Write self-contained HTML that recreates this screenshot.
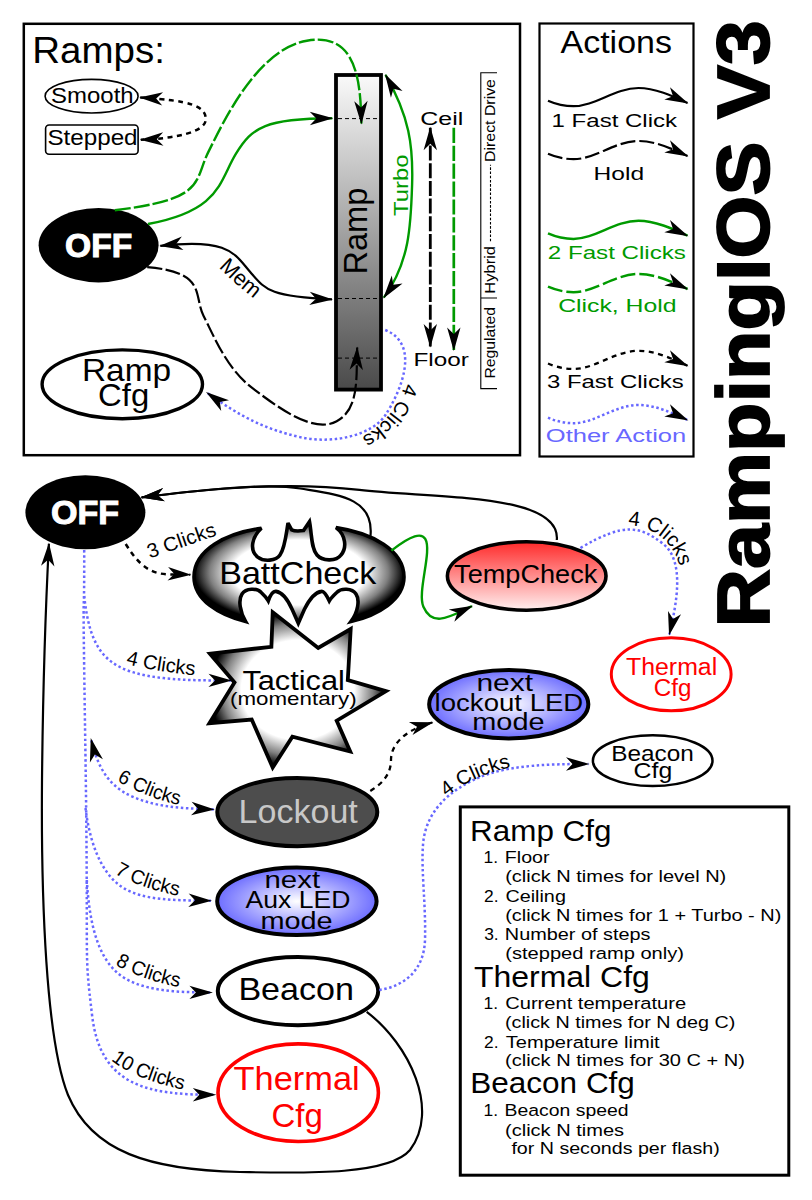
<!DOCTYPE html><html><head><meta charset="utf-8"><style>html,body{margin:0;padding:0;background:#fff;overflow:hidden}svg{display:block;font-family:"Liberation Sans",sans-serif}</style></head><body>
<svg width="812" height="1200" viewBox="0 0 812 1200">
<defs>
<marker id="ah" markerWidth="30" markerHeight="20" viewBox="-26 -10 30 20" refX="0" refY="0" orient="auto" markerUnits="userSpaceOnUse"><path d="M1,0 L-22.5,-6.7 L-16,0 L-22.5,6.7 Z" fill="#000"/></marker>
<marker id="ahs" markerWidth="30" markerHeight="20" viewBox="-26 -10 30 20" refX="0" refY="0" orient="auto-start-reverse" markerUnits="userSpaceOnUse"><path d="M1,0 L-22.5,-6.7 L-16,0 L-22.5,6.7 Z" fill="#000"/></marker>
<linearGradient id="rampg" x1="0" y1="0" x2="0" y2="1"><stop offset="0" stop-color="#fafafa"/><stop offset="1" stop-color="#4a4a4a"/></linearGradient>
<radialGradient id="bw" cx="0.5" cy="0.5" r="0.5"><stop offset="0" stop-color="#fff"/><stop offset="0.64" stop-color="#fff"/><stop offset="0.85" stop-color="#808080"/><stop offset="1" stop-color="#000"/></radialGradient>
<radialGradient id="bl" cx="0.5" cy="0.5" r="0.5"><stop offset="0" stop-color="#fff"/><stop offset="1" stop-color="#6e6eff"/></radialGradient>
<linearGradient id="tc" x1="0" y1="0" x2="0" y2="1"><stop offset="0" stop-color="#ff2a2a"/><stop offset="1" stop-color="#fff0f0"/></linearGradient>
</defs>
<rect width="812" height="1200" fill="#fff"/>
<rect x="23.8" y="23.8" width="496.2" height="431.4" fill="none" stroke="#000" stroke-width="2.5"/>
<text x="32.3" y="62.5" font-size="37.8" fill="#000" textLength="132.6" lengthAdjust="spacingAndGlyphs">Ramps:</text>
<ellipse cx="91.6" cy="96.2" rx="46.5" ry="16.8" fill="#fff" stroke="#000" stroke-width="1.6"/>
<text x="51.1" y="103.2" font-size="21.4" fill="#000" textLength="82.6" lengthAdjust="spacingAndGlyphs">Smooth</text>
<rect x="45.6" y="125" width="92.5" height="29.2" rx="3.5" fill="#fff" stroke="#000" stroke-width="1.6"/>
<text x="47.4" y="145.0" font-size="21.4" fill="#000" textLength="90.2" lengthAdjust="spacingAndGlyphs">Stepped</text>
<path d="M140.2,97.5 C190.2,100.5 205.8,106.1 205.8,119.2 C205.7,132.4 174.0,138.7 140.8,139.7" fill="none" stroke="#000" stroke-width="2.5" stroke-dasharray="5,4.5" marker-end="url(#ah)" marker-start="url(#ahs)"/>
<rect x="336" y="75" width="45" height="314.6" fill="url(#rampg)" stroke="#000" stroke-width="3.8"/>
<path d="M338,118.6 H379 M338,298.5 H379 M338,358.1 H379" stroke="#000" stroke-width="1" stroke-dasharray="4,3"/>
<text x="367.1" y="274.5" font-size="32.3" fill="#000" textLength="86.8" lengthAdjust="spacingAndGlyphs" transform="rotate(-90.0 367.1 274.5)">Ramp</text>
<ellipse cx="98.6" cy="245.2" rx="60" ry="37.2" fill="#000"/>
<text x="65.1" y="256.5" font-size="32.3" fill="#fff" font-weight="bold" textLength="67.1" lengthAdjust="spacingAndGlyphs" stroke="#fff" stroke-width="1">OFF</text>
<path d="M114.8,210.2 C206.8,199.2 193.4,182.0 208.4,151.9 C223.4,121.8 257.2,49.4 306.9,40.7 C356.5,32.0 360.5,80.1 361.4,123.5" fill="none" stroke="#009a00" stroke-width="2.4" stroke-dasharray="16,3" marker-end="url(#ah)"/>
<path d="M148.0,224.0 C220.5,210.4 219.0,181.8 235.7,154.2 C252.5,126.5 265.7,118.7 332.3,118.3" fill="none" stroke="#009a00" stroke-width="2.4" marker-end="url(#ah)"/>
<path d="M160.3,245.9 C229.9,237.7 234.9,254.4 250.0,271.7 C265.2,289.0 267.4,296.6 332.0,299.4" fill="none" stroke="#000" stroke-width="2.2" marker-end="url(#ah)" marker-start="url(#ahs)"/>
<path id="tp1" d="M218.9,267.4 Q233.6,282.6 254.3,298.8" fill="none"/>
<text font-size="21.5" fill="#000"><textPath href="#tp1" textLength="47.4" lengthAdjust="spacingAndGlyphs">Mem</textPath></text>
<path d="M147.2,267.2 C207.4,272.0 193.2,295.6 203.6,316.0 C214.1,336.4 226.7,368.8 252.5,388.2 C278.3,407.7 313.5,434.0 336.7,421.3 C359.9,408.7 356.0,376.5 357.2,347.5" fill="none" stroke="#000" stroke-width="2.2" stroke-dasharray="15,3.5" marker-end="url(#ah)"/>
<path d="M385.2,330.0 C422.6,345.0 398.4,395.1 385.6,414.8 C372.7,434.6 334.3,444.8 299.9,437.1 C265.6,429.3 241.3,417.2 206.8,392.6" fill="none" stroke="#6868ff" stroke-width="2.5" stroke-dasharray="2.5,2.6" marker-end="url(#ah)"/>
<ellipse cx="122.3" cy="384.3" rx="80.2" ry="34.4" fill="#fff" stroke="#000" stroke-width="3.4"/>
<text x="81.9" y="380.6" font-size="31.3" fill="#000" textLength="89.2" lengthAdjust="spacingAndGlyphs">Ramp</text>
<text x="98.0" y="406.4" font-size="31.3" fill="#000" textLength="51.2" lengthAdjust="spacingAndGlyphs">Cfg</text>
<path id="arc1" d="M404.9,382.9 A85,85 0 0 1 344.6,443.6" fill="none"/>
<text font-size="20"><textPath href="#arc1" textLength="71.4" lengthAdjust="spacingAndGlyphs">4 Clicks</textPath></text>
<path d="M385.5,74.8 C409.4,116.3 413.3,145.8 412.1,184.7 C410.9,223.7 409.9,262.2 383.8,297.6" fill="none" stroke="#009a00" stroke-width="2.4" marker-end="url(#ah)" marker-start="url(#ahs)"/>
<text x="407.8" y="216.0" font-size="20.0" fill="#009a00" textLength="61.5" lengthAdjust="spacingAndGlyphs" transform="rotate(-90.0 407.8 216.0)">Turbo</text>
<text x="420.3" y="124.7" font-size="18.9" fill="#000" textLength="42.9" lengthAdjust="spacingAndGlyphs">Ceil</text>
<text x="413.5" y="365.5" font-size="18.9" fill="#000" textLength="55.3" lengthAdjust="spacingAndGlyphs">Floor</text>
<path d="M430.3,127.8 L430.3,346.4" fill="none" stroke="#000" stroke-width="2.8" stroke-dasharray="15,2.7" marker-end="url(#ah)" marker-start="url(#ahs)"/>
<path d="M453.8,127.8 L453.8,350.0" fill="none" stroke="#009a00" stroke-width="2.7" stroke-dasharray="15.2,2.7" marker-end="url(#ah)"/>
<path d="M497,72.7 H480.8 V388.6 H497 M480.8,298 H497" fill="none" stroke="#000" stroke-width="1.1"/>
<text x="495.0" y="378.6" font-size="15.5" fill="#000" textLength="71.7" lengthAdjust="spacingAndGlyphs" transform="rotate(-90.0 495.0 378.6)">Regulated</text>
<text x="495.0" y="293.7" font-size="15.5" fill="#000" textLength="47.7" lengthAdjust="spacingAndGlyphs" transform="rotate(-90.0 495.0 293.7)">Hybrid</text>
<text x="495.0" y="161.9" font-size="15.5" fill="#000" textLength="82.8" lengthAdjust="spacingAndGlyphs" transform="rotate(-90.0 495.0 161.9)">Direct Drive</text>
<path d="M490.5,241.3 V164.8" stroke="#000" stroke-width="1.1" stroke-dasharray="2.6,1.6"/>
<rect x="539.5" y="23.5" width="154" height="433" fill="none" stroke="#000" stroke-width="2.2"/>
<text x="560.5" y="53.4" font-size="32.0" fill="#000" textLength="111.4" lengthAdjust="spacingAndGlyphs">Actions</text>
<path d="M548,100.7 C556,104.2 565,106.2 573.5,106.2 C595,106.2 615,88.0 638.5,88.0 C655,88.0 672,95.7 687.5,103.0" fill="none" stroke="#000" stroke-width="2.2" marker-end="url(#ah)"/>
<text x="551.6" y="126.9" font-size="18.9" fill="#000" textLength="125.4" lengthAdjust="spacingAndGlyphs">1 Fast Click</text>
<path d="M548,153.7 C556,157.2 565,159.2 573.5,159.2 C595,159.2 615,141.0 638.5,141.0 C655,141.0 672,148.7 687.5,156.0" fill="none" stroke="#000" stroke-width="2.2" stroke-dasharray="15,4" marker-end="url(#ah)"/>
<text x="593.6" y="179.5" font-size="18.9" fill="#000" textLength="50.5" lengthAdjust="spacingAndGlyphs">Hold</text>
<path d="M548,233.4 C556,236.9 565,238.9 573.5,238.9 C595,238.9 615,220.7 638.5,220.7 C655,220.7 672,228.4 687.5,235.7" fill="none" stroke="#009a00" stroke-width="2.5" marker-end="url(#ah)"/>
<text x="547.8" y="259.0" font-size="18.9" fill="#009a00" textLength="138.1" lengthAdjust="spacingAndGlyphs">2 Fast Clicks</text>
<path d="M548,286.7 C556,290.2 565,292.2 573.5,292.2 C595,292.2 615,274.0 638.5,274.0 C655,274.0 672,281.7 687.5,289.0" fill="none" stroke="#009a00" stroke-width="2.5" stroke-dasharray="15,4" marker-end="url(#ah)"/>
<text x="558.2" y="311.8" font-size="18.9" fill="#009a00" textLength="118.4" lengthAdjust="spacingAndGlyphs">Click, Hold</text>
<path d="M548,363.5 C556,367.0 565,369.0 573.5,369.0 C595,369.0 615,350.8 638.5,350.8 C655,350.8 672,358.5 687.5,365.8" fill="none" stroke="#000" stroke-width="2.3" stroke-dasharray="5,4.5" marker-end="url(#ah)"/>
<text x="547.1" y="387.6" font-size="18.9" fill="#000" textLength="136.6" lengthAdjust="spacingAndGlyphs">3 Fast Clicks</text>
<path d="M548,417.7 C556,421.2 565,423.2 573.5,423.2 C595,423.2 615,405.0 638.5,405.0 C655,405.0 672,412.7 687.5,420.0" fill="none" stroke="#6868ff" stroke-width="2.5" stroke-dasharray="2.5,2.6" marker-end="url(#ah)"/>
<text x="545.8" y="442.0" font-size="18.9" fill="#6868ff" textLength="140.4" lengthAdjust="spacingAndGlyphs">Other Action</text>
<text x="769.0" y="627.4" font-size="74.0" fill="#000" font-weight="bold" textLength="607.3" lengthAdjust="spacingAndGlyphs" transform="rotate(-90.0 769.0 627.4)" stroke="#000" stroke-width="1.8">RampingIOS V3</text>
<path d="M366.7,1011.8 C410,1045 440,1110 410,1150 C388,1176 300,1173 240,1172 C150,1170 92,1152 68,1095 C46,1040 41,900 42,780 C43,680 46,600 48.9,543.7" fill="none" stroke="#000" stroke-width="2.2" marker-end="url(#ah)"/>
<path d="M370.5,535.8 C374.1,497.4 337.9,494.8 300.2,488.5 C262.6,482.3 186.2,491.7 141.6,497.4" fill="none" stroke="#000" stroke-width="2.2" marker-end="url(#ah)"/>
<path d="M556.8,540.0 C561.2,492.3 430.4,498.5 359.5,489.9 C288.6,481.4 213.2,488.2 141.6,497.4" fill="none" stroke="#000" stroke-width="2.2" marker-end="url(#ah)"/>
<ellipse cx="85.4" cy="512.2" rx="60" ry="37" fill="#000"/>
<text x="51.0" y="523.5" font-size="32.3" fill="#fff" font-weight="bold" textLength="68.1" lengthAdjust="spacingAndGlyphs" stroke="#fff" stroke-width="1">OFF</text>
<path d="M125.7,544.0 C147.9,580.3 163.7,573.6 190.3,574.7" fill="none" stroke="#000" stroke-width="2.5" stroke-dasharray="5,4.5" marker-end="url(#ah)"/>
<text x="149.7" y="558.6" font-size="20.0" fill="#000" textLength="71.6" lengthAdjust="spacingAndGlyphs" transform="rotate(-19.1 149.7 558.6)">3 Clicks</text>
<path d="M84.2,596.0 C86.8,619.8 91.6,642.6 105.6,656.7 C119.5,670.8 140.7,675.5 163.3,678.1 C185.9,680.6 208.4,680.4 231.0,680.5" fill="none" stroke="#6868ff" stroke-width="2.5" stroke-dasharray="2.5,2.6" marker-end="url(#ah)"/>
<path id="tp2" d="M125.9,664.1 Q153.3,670.9 194.8,675.3" fill="none"/>
<text font-size="20.0" fill="#000"><textPath href="#tp2" textLength="69.9" lengthAdjust="spacingAndGlyphs">4 Clicks</textPath></text>
<path d="M213.8,809.4 C187.9,808.3 159.8,808.6 132.3,796.6 C104.8,784.6 96.6,761.6 91.0,739.0" fill="none" stroke="#6868ff" stroke-width="2.5" stroke-dasharray="2.5,2.6" marker-end="url(#ah)" marker-start="url(#ahs)"/>
<path id="tp3" d="M116.6,781.0 Q150.4,799.0 178.8,805.0" fill="none"/>
<text font-size="20.0" fill="#000"><textPath href="#tp3" textLength="66.9" lengthAdjust="spacingAndGlyphs">6 Clicks</textPath></text>
<path d="M85.5,808.0 C89.0,837.4 98.8,871.0 121.2,886.5 C143.6,901.9 180.1,900.0 211.0,900.7" fill="none" stroke="#6868ff" stroke-width="2.5" stroke-dasharray="2.5,2.6" marker-end="url(#ah)"/>
<path id="tp4" d="M114.5,873.4 Q139.0,887.5 178.3,895.9" fill="none"/>
<text font-size="20.0" fill="#000"><textPath href="#tp4" textLength="67.9" lengthAdjust="spacingAndGlyphs">7 Clicks</textPath></text>
<path d="M86.8,880.0 C88.8,912.6 94.1,951.2 116.0,971.6 C137.8,992.1 180.8,992.4 211.9,992.4" fill="none" stroke="#6868ff" stroke-width="2.5" stroke-dasharray="2.5,2.6" marker-end="url(#ah)"/>
<path id="tp5" d="M115.3,964.8 Q139.6,978.8 179.0,987.2" fill="none"/>
<text font-size="20.0" fill="#000"><textPath href="#tp5" textLength="67.8" lengthAdjust="spacingAndGlyphs">8 Clicks</textPath></text>
<path d="M84.2,550.0 C84.4,652.1 82.1,535.0 85.5,758.1 C88.8,981.2 83.6,943.6 92.1,1015.5 C100.6,1087.3 149.2,1094.8 215.3,1094.8" fill="none" stroke="#6868ff" stroke-width="2.5" stroke-dasharray="2.5,2.6" marker-end="url(#ah)"/>
<path id="tp6" d="M111.0,1060.3 Q135.6,1079.5 183.4,1089.7" fill="none"/>
<text font-size="20.0" fill="#000"><textPath href="#tp6" textLength="78.8" lengthAdjust="spacingAndGlyphs">10 Clicks</textPath></text>
<path d="M261.4,528.3 C252,537 249,550 257.7,557.1 C264,562 276,561 280,555 C285,548 286,535 288,523.1 L291.7,529.8 C294,531 300,531 303.5,530.5 L309.5,521.7 C312,535 311,548 317,555 C322,561 336,562 341,555 C347,548 346,535 336,527.6 C372,533 404,550 404,577 C404,600 378,615 350.9,621.6 C358,612 360,600 356,594 C352,588 341,588 337,592.2 C334,595 331,598 329.3,600.9 C327,596 324,591 321.6,591.4 C316,592 310,598 304.3,609.5 L298.3,623.3 L292.2,609.5 C287,598 281,592 276,591.4 C273,591 270,596 268.3,600.9 C266.6,598 264,595 261,592.2 C257,588 246,588 242,594 C238,600 240,612 245.7,621.6 C219,615 194,600 194,577 C194,550 226,533 261.4,528.3 Z" fill="url(#bw)" stroke="#000" stroke-width="3.6" stroke-miterlimit="3"/>
<text x="219.2" y="583.7" font-size="30.5" fill="#000" textLength="157.2" lengthAdjust="spacingAndGlyphs">BattCheck</text>
<path d="M391.4,550.6 C453.5,502.2 413.8,584.7 423.4,606.7 C433.0,628.8 451.9,615.4 472.0,606.2" fill="none" stroke="#009a00" stroke-width="2.4" marker-end="url(#ah)"/>
<ellipse cx="526.7" cy="576" rx="79.3" ry="34.2" fill="url(#tc)" stroke="#000" stroke-width="3.6"/>
<text x="454.1" y="583.4" font-size="26.5" fill="#000" textLength="143.2" lengthAdjust="spacingAndGlyphs">TempCheck</text>
<path d="M580.4,548.0 C624.5,521.9 640.2,526.3 662.7,543.5 C685.2,560.8 676.6,604.0 669.3,634.5" fill="none" stroke="#6868ff" stroke-width="2.5" stroke-dasharray="2.5,2.6" marker-end="url(#ah)"/>
<path id="arc2" d="M628.1,525.2 A54,54 0 0 1 680.4,569.8" fill="none"/>
<text font-size="20.5"><textPath href="#arc2" textLength="71" lengthAdjust="spacingAndGlyphs">4 Clicks</textPath></text>
<ellipse cx="671.2" cy="674.3" rx="59.9" ry="36.5" fill="#fff" stroke="#ff0000" stroke-width="3"/>
<text x="626.0" y="674.9" font-size="23.5" fill="#ff0000" textLength="91.2" lengthAdjust="spacingAndGlyphs">Thermal</text>
<text x="653.7" y="695.7" font-size="23.5" fill="#ff0000" textLength="37.7" lengthAdjust="spacingAndGlyphs">Cfg</text>
<path d="M272.7,612.3 L318.2,648 L350.7,629 L347.8,680 L386,691.1 L336.7,720.7 L350.2,751.5 L292.4,736.7 L272.7,767.5 L251.7,719.5 L209.4,723.2 L234.5,682.5 L209.9,653.7 L271.4,646.8 Z" fill="url(#bw)" stroke="#000" stroke-width="3.8" stroke-linejoin="miter" stroke-miterlimit="6"/>
<text x="242.4" y="690.0" font-size="27.0" fill="#000" textLength="102.5" lengthAdjust="spacingAndGlyphs">Tactical</text>
<text x="230.1" y="704.7" font-size="19.0" fill="#000" textLength="126.5" lengthAdjust="spacingAndGlyphs">(momentary)</text>
<ellipse cx="297.3" cy="812.1" rx="80" ry="34.1" fill="#4d4d4d" stroke="#000" stroke-width="4"/>
<text x="238.6" y="822.8" font-size="32.3" fill="#c8c8c8" textLength="119.2" lengthAdjust="spacingAndGlyphs">Lockout</text>
<path d="M370.3,790.9 C385,782 391,772 391,760 C391,746 402,731 432.4,722.5" fill="none" stroke="#000" stroke-width="2.3" stroke-dasharray="5,4.5" marker-end="url(#ah)"/>
<ellipse cx="508.75" cy="704.25" rx="79.6" ry="34.2" fill="url(#bl)" stroke="#000" stroke-width="4"/>
<text x="476.4" y="691.2" font-size="24.7" fill="#000" textLength="56.6" lengthAdjust="spacingAndGlyphs">next</text>
<text x="434.6" y="711.0" font-size="24.7" fill="#000" textLength="148.7" lengthAdjust="spacingAndGlyphs">lockout LED</text>
<text x="472.3" y="730.3" font-size="24.7" fill="#000" textLength="72.3" lengthAdjust="spacingAndGlyphs">mode</text>
<ellipse cx="296.9" cy="901.3" rx="79.7" ry="33.8" fill="url(#bl)" stroke="#000" stroke-width="4"/>
<text x="264.5" y="888.3" font-size="24.7" fill="#000" textLength="55.6" lengthAdjust="spacingAndGlyphs">next</text>
<text x="245.5" y="908.2" font-size="24.7" fill="#000" textLength="104.9" lengthAdjust="spacingAndGlyphs">Aux LED</text>
<text x="260.4" y="928.7" font-size="24.7" fill="#000" textLength="72.3" lengthAdjust="spacingAndGlyphs">mode</text>
<ellipse cx="298" cy="991.1" rx="80.2" ry="34.2" fill="#fff" stroke="#000" stroke-width="4"/>
<text x="238.4" y="1000.2" font-size="30.5" fill="#000" textLength="115.6" lengthAdjust="spacingAndGlyphs">Beacon</text>
<ellipse cx="298.2" cy="1092.7" rx="80.2" ry="48.8" fill="#fff" stroke="#ff0000" stroke-width="3.6"/>
<text x="233.6" y="1090.1" font-size="33.0" fill="#ff0000" textLength="126.1" lengthAdjust="spacingAndGlyphs">Thermal</text>
<text x="271.5" y="1126.7" font-size="33.0" fill="#ff0000" textLength="51.4" lengthAdjust="spacingAndGlyphs">Cfg</text>
<path d="M379.2,990 C405,986 424,970 425,940 C426,905 421,870 423,845 C425,815 445,790 486.5,774.5 C515,765 550,764 588.5,764" fill="none" stroke="#6868ff" stroke-width="2.5" stroke-dasharray="2.5,2.6" marker-end="url(#ah)"/>
<path id="tp7" d="M446.6,796.8 Q469.9,777.2 510.9,767.0" fill="none"/>
<text font-size="20.0" fill="#000"><textPath href="#tp7" textLength="71.5" lengthAdjust="spacingAndGlyphs">4 Clicks</textPath></text>
<ellipse cx="652.7" cy="760.7" rx="59.8" ry="25.4" fill="#fff" stroke="#000" stroke-width="2.5"/>
<text x="611.3" y="760.7" font-size="22.3" fill="#000" textLength="82.5" lengthAdjust="spacingAndGlyphs">Beacon</text>
<text x="633.6" y="778.2" font-size="22.3" fill="#000" textLength="38.6" lengthAdjust="spacingAndGlyphs">Cfg</text>
<rect x="460.3" y="806.9" width="328.5" height="368.3" fill="#fff" stroke="#000" stroke-width="3"/>
<text x="470.1" y="840.9" font-size="29.0" fill="#000" textLength="141.4" lengthAdjust="spacingAndGlyphs">Ramp Cfg</text>
<text x="483.6" y="863.1" font-size="17.4" fill="#000">1.</text>
<text x="504.8" y="863.1" font-size="17.4" fill="#000" textLength="44.7" lengthAdjust="spacingAndGlyphs">Floor</text>
<text x="505.2" y="882.1" font-size="17.4" fill="#000" textLength="221.1" lengthAdjust="spacingAndGlyphs">(click N times for level N)</text>
<text x="484.0" y="901.9" font-size="17.4" fill="#000">2.</text>
<text x="505.4" y="901.9" font-size="17.4" fill="#000" textLength="60.5" lengthAdjust="spacingAndGlyphs">Ceiling</text>
<text x="505.2" y="920.7" font-size="17.4" fill="#000" textLength="276.1" lengthAdjust="spacingAndGlyphs">(click N times for 1 + Turbo - N)</text>
<text x="484.2" y="939.8" font-size="17.4" fill="#000">3.</text>
<text x="504.8" y="939.8" font-size="17.4" fill="#000" textLength="145.6" lengthAdjust="spacingAndGlyphs">Number of steps</text>
<text x="505.2" y="958.6" font-size="17.4" fill="#000" textLength="178.8" lengthAdjust="spacingAndGlyphs">(stepped ramp only)</text>
<text x="474.1" y="986.6" font-size="29.0" fill="#000" textLength="175.7" lengthAdjust="spacingAndGlyphs">Thermal Cfg</text>
<text x="483.6" y="1009.1" font-size="17.4" fill="#000">1.</text>
<text x="505.2" y="1009.1" font-size="17.4" fill="#000" textLength="181.0" lengthAdjust="spacingAndGlyphs">Current temperature</text>
<text x="505.0" y="1028.3" font-size="17.4" fill="#000" textLength="230.3" lengthAdjust="spacingAndGlyphs">(click N times for N deg C)</text>
<text x="484.0" y="1047.5" font-size="17.4" fill="#000">2.</text>
<text x="505.8" y="1047.5" font-size="17.4" fill="#000" textLength="153.9" lengthAdjust="spacingAndGlyphs">Temperature limit</text>
<text x="505.0" y="1066.4" font-size="17.4" fill="#000" textLength="240.0" lengthAdjust="spacingAndGlyphs">(click N times for 30 C + N)</text>
<text x="470.3" y="1093.0" font-size="29.0" fill="#000" textLength="164.6" lengthAdjust="spacingAndGlyphs">Beacon Cfg</text>
<text x="483.6" y="1115.9" font-size="17.4" fill="#000">1.</text>
<text x="504.6" y="1115.9" font-size="17.4" fill="#000" textLength="123.9" lengthAdjust="spacingAndGlyphs">Beacon speed</text>
<text x="505.0" y="1135.5" font-size="17.4" fill="#000" textLength="119.1" lengthAdjust="spacingAndGlyphs">(click N times</text>
<text x="511.4" y="1153.9" font-size="17.4" fill="#000" textLength="208.4" lengthAdjust="spacingAndGlyphs">for N seconds per flash)</text>
</svg></body></html>
